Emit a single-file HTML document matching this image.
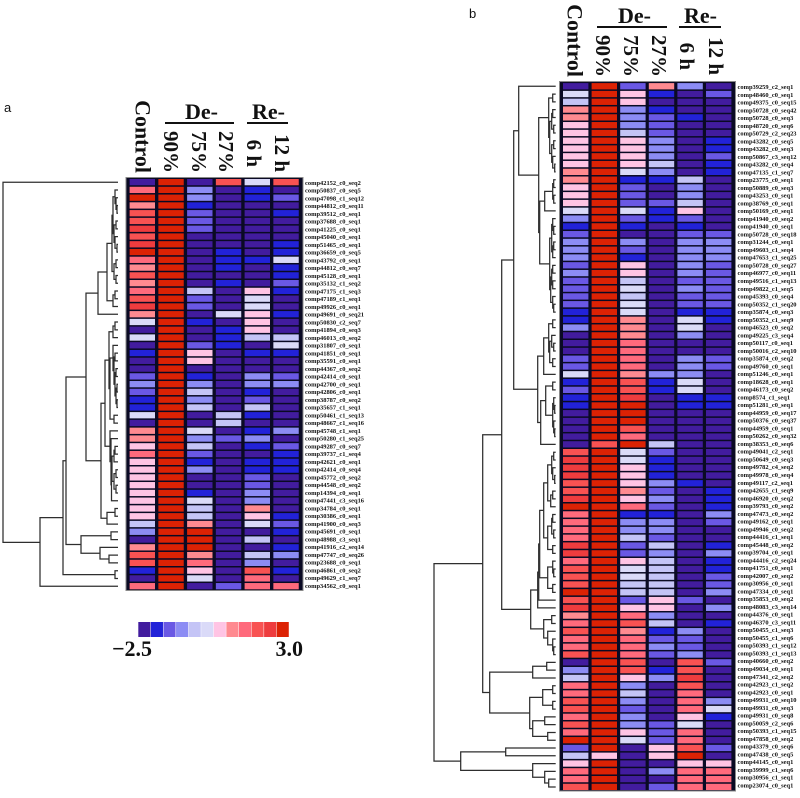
<!DOCTYPE html>
<html lang="en">
<head>
<meta charset="utf-8">
<title>Expression heatmaps</title>
<style>
html,body{margin:0;padding:0;background:#fff;}
#chart{display:block;width:800px;height:798px;filter:blur(0.35px);}
text{font-family:"Liberation Serif",serif;fill:#111;}
.hd{font-weight:bold;font-size:21px;}
.grp{font-weight:bold;font-size:22px;}
.lbl{font-weight:bold;font-size:6.45px;}
.tag{font-family:"Liberation Sans",sans-serif;font-size:13px;}
.leg{font-weight:bold;font-size:22px;}
</style>
</head>
<body>
<svg id="chart" xmlns="http://www.w3.org/2000/svg" width="800" height="798" viewBox="0 0 800 798">
  <text class="tag" x="4" y="112">a</text>
  <text class="tag" x="469" y="18">b</text>

  <g>
    <text class="hd" style="font-size:22px" transform="translate(135.5,173) rotate(90)" text-anchor="end">Control</text>
    <text class="grp" x="185" y="119">De-</text>
    <rect x="165" y="122" width="69" height="2" fill="#111"/>
    <text class="grp" x="252" y="119">Re-</text>
    <rect x="247" y="122" width="41" height="2" fill="#111"/>
    <text class="hd" transform="translate(164,173) rotate(90)" text-anchor="end">90%</text>
    <text class="hd" transform="translate(192,173) rotate(90)" text-anchor="end">75%</text>
    <text class="hd" transform="translate(219,173) rotate(90)" text-anchor="end">27%</text>
    <text class="hd" transform="translate(247,167) rotate(90)" text-anchor="end">6 h</text>
    <text class="hd" transform="translate(275,172) rotate(90)" text-anchor="end">12 h</text>
  </g>

  <g>
    <text class="hd" style="font-size:22px" transform="translate(567.5,77) rotate(90)" text-anchor="end">Control</text>
    <text class="grp" x="618" y="23">De-</text>
    <rect x="597" y="26" width="70" height="2" fill="#111"/>
    <text class="grp" x="684" y="23">Re-</text>
    <rect x="679" y="26" width="42" height="2" fill="#111"/>
    <text class="hd" transform="translate(596,77) rotate(90)" text-anchor="end">90%</text>
    <text class="hd" transform="translate(624,77) rotate(90)" text-anchor="end">75%</text>
    <text class="hd" transform="translate(652,77) rotate(90)" text-anchor="end">27%</text>
    <text class="hd" transform="translate(680,70) rotate(90)" text-anchor="end">6 h</text>
    <text class="hd" transform="translate(709,75) rotate(90)" text-anchor="end">12 h</text>
  </g>

  <rect x="126" y="177.5" width="177" height="413" fill="#0a0a24" stroke="#8a8a8a" stroke-width="1"/>
  <rect x="559.5" y="81.5" width="176" height="709.5" fill="#0a0a24" stroke="#8a8a8a" stroke-width="1"/>
  <g id="layer-a"></g>
  <g id="layer-b"></g>
  <g id="tree-a" fill="none" stroke="#2e2e2e" stroke-width="1.25"></g>
  <g id="tree-b" fill="none" stroke="#2e2e2e" stroke-width="1.25"></g>
  <g id="legend"></g>
</svg>
<script>
const columnNames = ["Control", "90%", "75%", "27%", "6 h", "12 h"];

const rowLabelsA = ["comp42152_c0_seq2","comp50837_c0_seq5","comp47098_c1_seq12","comp44812_c0_seq11","comp39512_c0_seq1","comp37688_c0_seq1","comp41225_c0_seq1","comp45040_c0_seq1","comp51465_c0_seq1","comp36659_c0_seq5","comp43792_c0_seq1","comp44812_c0_seq7","comp45128_c0_seq1","comp35132_c1_seq2","comp47175_c1_seq3","comp47189_c1_seq1","comp49926_c0_seq1","comp49691_c0_seq21","comp50830_c2_seq7","comp41894_c0_seq3","comp46013_c0_seq2","comp31807_c0_seq1","comp41851_c0_seq1","comp35591_c0_seq1","comp44367_c0_seq2","comp42414_c0_seq1","comp42700_c0_seq1","comp42806_c0_seq1","comp38787_c0_seq2","comp35657_c1_seq1","comp50461_c1_seq13","comp48667_c1_seq16","comp45748_c1_seq1","comp50280_c1_seq25","comp49287_c0_seq7","comp39737_c1_seq4","comp42621_c0_seq1","comp42414_c0_seq4","comp45772_c0_seq2","comp44548_c0_seq2","comp14394_c0_seq1","comp47441_c3_seq16","comp34784_c0_seq1","comp30386_c0_seq1","comp41900_c0_seq3","comp45691_c0_seq1","comp48988_c3_seq1","comp41916_c2_seq14","comp47747_c0_seq26","comp23688_c0_seq1","comp46861_c0_seq2","comp49629_c1_seq7","comp34562_c0_seq1"];

const valuesA = [
[-2.5,3,-2.5,2,0,2],
[1.5,3,-1,-2.5,-2,-2.5],
[3,3,-1,-2.5,-2,-1.5],
[1,3,-2,-2.5,-2.5,-2.5],
[2,3,-1.5,-2.5,-2.5,-2],
[2,3,-1.5,-2.5,-2.5,-2.5],
[2.5,3,-1.5,-2.5,-2.5,-2.5],
[2,3,-2.5,-2.5,-2.5,-2.5],
[2.5,3,-2.5,-2.5,-2.5,-2],
[3,3,-2.5,-2,-2.5,-2],
[1.5,3,-2.5,-2,-2,0],
[1,3,-2.5,-2,-2.5,-2],
[2,3,-2.5,-2.5,-2.5,-2],
[1,3,-2.5,-2,-2.5,-1.5],
[1.5,3,-0.5,-2.5,0.5,-2],
[2,3,-1.5,-2.5,0,-2.5],
[2.5,3,-1.5,-2.5,0,-2.5],
[1,3,-2.5,0,0.5,-2],
[0,3,-2,-2.5,0.5,-2.5],
[-2.5,3,-2.5,-2,0.5,-2.5],
[0,3,-2.5,-2,-0.5,-0.5],
[-2.5,3,-1.5,-2,-2.5,0],
[-2,3,0.5,-2.5,-2,-2],
[-2.5,3,0.5,-2.5,-2.5,-2.5],
[-2.5,3,-2.5,-2.5,-2.5,-2.5],
[-1.5,3,-2,-2.5,-1,-1.5],
[-1,3,-1,-2.5,-1,-1],
[-1.5,3,-0.5,-2.5,-2,-2.5],
[-2,3,-1,-2.5,-1.5,-2.5],
[-2,3,-0.5,-2.5,-0.5,-2.5],
[0,3,-2.5,-0.5,-2,-2.5],
[-2.5,3,-2.5,-0.5,-2.5,-2.5],
[1,3,0,-2.5,-2,-1],
[1,3,-1,-1.5,-1,-2.5],
[0.5,3,-0.5,-2.5,-2,-1.5],
[1.5,3,-1.5,-2.5,-2.5,-2],
[0.5,3,-2,-2.5,-2,-2],
[0.5,3,-1,-2.5,-2,-2],
[0.5,3,-2.5,-2.5,-1.5,-2.5],
[0.5,3,-2.5,-2.5,-1.5,-2.5],
[0.5,3,-2,-2.5,-1,-2.5],
[0.5,3,0,-2.5,-1,-2.5],
[0.5,3,-0.5,-2.5,1,-2.5],
[0.5,3,-0.5,-2.5,0.5,-2],
[-0.5,3,1,-2.5,0,-1.5],
[-1,3,3,-2.5,-2.5,-2],
[-2.5,3,3,-2.5,-0.5,-2.5],
[1,3,3,-2.5,-2.5,-2],
[2,3,1,-2.5,-0.5,-1],
[2,3,1.5,-2.5,-1,-2.5],
[-2,3,0.5,-2.5,2,-2],
[-2.5,3,0,-2.5,1.5,-2.5],
[1.5,3,-2.5,-1.5,1.5,1.5]
];

const rowLabelsB = ["comp39259_c2_seq1","comp48460_c0_seq1","comp49375_c0_seq15","comp50728_c0_seq42","comp50728_c0_seq3","comp48720_c0_seq6","comp50729_c2_seq23","comp43282_c0_seq5","comp43282_c0_seq3","comp50867_c3_seq12","comp43282_c0_seq4","comp47135_c1_seq7","comp23775_c0_seq1","comp50889_c0_seq3","comp43253_c0_seq1","comp38769_c0_seq1","comp50169_c0_seq1","comp41940_c0_seq2","comp41940_c0_seq1","comp50728_c0_seq18","comp31244_c0_seq1","comp49603_c1_seq4","comp47653_c1_seq25","comp50728_c0_seq27","comp46977_c0_seq11","comp49516_c1_seq13","comp49822_c1_seq5","comp45393_c0_seq4","comp50352_c1_seq20","comp35874_c0_seq3","comp50352_c1_seq9","comp46523_c0_seq2","comp49225_c3_seq4","comp50117_c0_seq1","comp50016_c2_seq10","comp35874_c0_seq2","comp49760_c0_seq1","comp51246_c0_seq1","comp18628_c0_seq1","comp46173_c0_seq2","comp8574_c1_seq1","comp51281_c0_seq1","comp44959_c0_seq17","comp50376_c0_seq37","comp44959_c0_seq1","comp50262_c0_seq32","comp38353_c0_seq6","comp49041_c2_seq1","comp50649_c0_seq3","comp49782_c4_seq2","comp49978_c0_seq4","comp49117_c2_seq1","comp42655_c1_seq9","comp46920_c0_seq2","comp39793_c0_seq2","comp47473_c0_seq2","comp49162_c0_seq1","comp49946_c0_seq2","comp44416_c1_seq1","comp45448_c0_seq2","comp39704_c0_seq1","comp44416_c2_seq24","comp41751_c0_seq1","comp42007_c0_seq2","comp30956_c0_seq1","comp47334_c0_seq1","comp35853_c0_seq2","comp48083_c3_seq14","comp44376_c0_seq1","comp46370_c3_seq11","comp50455_c1_seq3","comp50455_c1_seq6","comp50393_c1_seq12","comp50393_c1_seq13","comp40660_c0_seq2","comp49034_c0_seq1","comp47341_c2_seq2","comp42923_c1_seq2","comp42923_c0_seq1","comp49931_c0_seq10","comp49931_c0_seq3","comp49931_c0_seq8","comp50059_c2_seq6","comp50393_c1_seq15","comp47858_c0_seq2","comp43379_c0_seq6","comp47438_c0_seq5","comp44145_c0_seq1","comp39999_c1_seq6","comp30956_c1_seq1","comp23074_c0_seq1"];

const valuesB = [
[-2.5,3,-1.5,1,-1,-2.5],
[0,3,0.5,-2,-2.5,-1.5],
[-0.5,3,0.5,-2.5,-2.5,-2.5],
[1,3,-1,-2,-2.5,-2.5],
[1,3,-1,-1.5,-2,-2.5],
[0.5,3,-1,-1.5,-2.5,-2.5],
[0.5,3,-0.5,-1.5,-2.5,-2.5],
[0.5,3,0.5,-1,-2.5,-2],
[0.5,3,0.5,-1,-2.5,-2],
[0.5,3,0.5,-1,-2.5,-1.5],
[0.5,3,0.5,-0.5,-2.5,-2],
[1,3,0,-1,-2.5,-2],
[1,3,-2,-2,-0.5,-2.5],
[0.5,3,-1.5,-2.5,-1,-2.5],
[0.5,3,-1.5,-2.5,-1,-2.5],
[0.5,3,-1.5,-1.5,-0.5,-2.5],
[0,3,0,-2,0.5,-2.5],
[-1,3,-1.5,-2,-1.5,-2.5],
[-2,3,-2,-2.5,-2,-2.5],
[-1.5,3,-2.5,-2.5,-1.5,-1.5],
[-1,3,-1,-2.5,-1,-1],
[-1,3,-1.5,-2.5,-1,-1],
[-1,3,-2,-2.5,-1,-1],
[-1.5,3,0.5,-2.5,-1,-1.5],
[-1,3,0.5,-2.5,-1,-1.5],
[-1.5,3,-0.5,-2.5,-1.5,-1.5],
[-1.5,3,0,-2.5,-1,-1.5],
[-1.5,3,-0.5,-2.5,-1.5,-1.5],
[-1.5,3,0,-2.5,-1.5,-1.5],
[-2,3,0,-2.5,-2,-2],
[-2,3,1,-2.5,0,-2],
[-1,3,1,-2.5,0,-2.5],
[-2.5,3,1,-2.5,-1,-2.5],
[-2.5,3,1.5,-2.5,-2.5,-2.5],
[-2.5,3,1.5,-2.5,-2.5,-2.5],
[-1.5,3,1.5,-2.5,-1,-1.5],
[-1.5,3,1.5,-2.5,-1,-1.5],
[0,3,1,-1,-1,-2.5],
[-2,3,2,-2,0,-2.5],
[-1.5,3,2,-2,0,-2.5],
[-2,3,2.5,-2.5,-2,-2],
[-2,3,3,-2.5,-2,-2],
[-2.5,3,3,-2.5,-2.5,-2.5],
[-2.5,3,3,-2.5,-2.5,-2.5],
[-2.5,3,2,-2.5,-2.5,-2.5],
[-2.5,3,1.5,-2.5,-2.5,-2.5],
[-2.5,2,3,-0.5,-2.5,-2.5],
[2,3,0,-1.5,-2.5,-2.5],
[2.5,3,0,-2,-2.5,-2.5],
[2.5,3,0.5,-2,-2.5,-2.5],
[2.5,3,0.5,-2,-2.5,-2.5],
[2,3,0.5,-1,-2,-2.5],
[2,3,1,-1.5,-2.5,-2],
[2.5,3,0.5,-1,-2.5,-2],
[3,3,1.5,-1.5,-2.5,-2],
[1.5,3,-2,-2,-2.5,-1],
[1.5,3,-1,-1,-2.5,-1.5],
[1.5,3,-1,-1,-2.5,-2.5],
[1.5,3,-0.5,-1.5,-2.5,-2.5],
[2.5,3,-1.5,-0.5,-2.5,-2],
[2.5,3,-1.5,-1,-2.5,-1],
[1.5,3,0.5,-0.5,-2.5,-2],
[2,3,0,-0.5,-2.5,-2],
[2,3,0,-0.5,-2.5,-1.5],
[2,3,-0.5,-0.5,-2.5,-1.5],
[3,3,-0.5,-0.5,-2.5,-1],
[2,3,-1.5,0.5,-1.5,-2.5],
[2.5,3,0.5,0.5,-2.5,-1],
[1,3,1.5,-1,-2.5,-2.5],
[1.5,3,2,-0.5,-2.5,-2],
[2,3,1,-2,-1,-2.5],
[1.5,3,1.5,-1.5,-1.5,-2.5],
[1.5,3,1.5,-1,-1.5,-2.5],
[2,3,1.5,-1.5,-1,-2.5],
[-2.5,3,2,-2.5,2,-1.5],
[-1,3,2,-2,2,-2.5],
[-0.5,3,0.5,-1,2.5,-2.5],
[1.5,3,-1,-2.5,2,-2.5],
[1.5,3,-0.5,-2.5,1.5,-2.5],
[2,3,-1,-2.5,1.5,-1],
[2,3,-1.5,-2.5,1.5,0],
[1.5,3,-1,-2.5,0.5,-2],
[2,3,-1,-1.5,0,-2.5],
[1.5,3,0.5,-1.5,1.5,-2.5],
[3,3,0,-1.5,1.5,-2.5],
[-1.5,3,-2.5,0.5,2,-1.5],
[-0.5,0.5,-2.5,0.5,3,-2.5],
[0.5,3,-2.5,-2.5,0.5,0.5],
[1.5,3,-2.5,-1,1.5,1.5],
[1.5,3,-2.5,-2.5,1.5,1.5],
[2,3,-2.5,-1.5,1.5,1.5]
];

const legendSteps = [-2.5,-2,-1.5,-1,-0.5,0,0.5,1,1.5,2,2.5,3];
const legendTicks = ["\u22122.5", "3.0"];

/* dendrogram merges: [merge distance, upper child, lower child, optional join fraction]; 0 = a leaf row */
const dendroA = [115,0,[78,[55,[52,[32,
  [20,[11,[6,[5,[3,0,[2,0,[1,0,0]]],[4,[2,0,0],[3,0,[1,0,0]]]],[4,[2,0,0],[2,0,0]]],[5,[3,0,0],0]],0],
  [17,[13,
    [9,[5,[3,0,0],0],[8,[5,0,[4,[3,0,0],[3,[2,0,0],[2,[1,0,0],[1,0,0]]]]],[4,0,0]]],
    [8,0,[7,0,[6.5,[6,[4,[3,0,0],0],[4,[2,0,0],[2,0,0]]],0]]]],
    [11,[3,0,0],0]]],
  [37,[7,0,0],[18,0,[9,0,0]]]],
  [3,0,0]],0,0.36]];

const dendroB = [121.7,
 [73,
  [54,
   [42,
    [37,0,[17,
      [7,[3,0,0],[6,[4,[3,0,0],[2,0,0]],[4,[2,0,0],[3,0,[1,0,0]]]]],
      [16,[11,[3,[2,0,0],[2,0,0]],0],
        [6,[4,[3,0,[2,0,0]],[3,[2,0,0],0]],[5,[4,[3,0,0],[3,0,0]],[3,0,[2,0,0]]]]]]],
    [18,
      [12,[7,[3,0,0],[6,[4,0,[2,0,0]],[3,0,0]]],0],
      [15,[10,[3,0,0],[3,[2,0,[1,0,0]],[2,0,[1,0,0]]]],0]]],
   [25,
    [18,[17,[16,[12,
        [8,[4,[2,0,0],[3,0,[1,0,0]]],[5,[3,0,0],0]],
        [8,[4,[3,0,0],[2,0,0]],[3,0,0]]],
        [8,[3,0,[2,0,0]],[3,0,0]]],0],0],
    [12,[4,0,0],[8,0,[3,0,[2,0,0]]]]]],
  [66,[23,[9,0,0],0],[26,[13,[3,0,0],[3,0,0]],[23,[11,0,0],[8,0,0]]]]],
 [95,[50,0,0],[23,0,[11,0,[7,0,0]]]]];

const SVGNS = "http://www.w3.org/2000/svg";
const palette = ["#421c9e","#2222d8","#6a58e4","#8c8cf4","#c4c4f6","#dadaf8","#ffc4e4","#ff8a90","#ff6a7c","#f85252","#ee3c3e","#dc2204"];
function colorOf(v) {
  const i = Math.round((v + 2.5) / 5.5 * (palette.length - 1));
  return palette[Math.max(0, Math.min(palette.length - 1, i))];
}
function make(tag, attrs) {
  const el = document.createElementNS(SVGNS, tag);
  for (const k in attrs) el.setAttribute(k, attrs[k]);
  return el;
}
function drawHeatmap(layerId, labels, values, cfg) {
  const layer = document.getElementById(layerId);
  const xScale = c => cfg.x0 + c * cfg.colPitch;
  const yScale = r => cfg.y0 + r * cfg.rowPitch;
  values.forEach((row, r) => {
    row.forEach((v, c) => {
      const cell = make("rect", {x: xScale(c), y: yScale(r) + 0.7, width: cfg.cellW, height: cfg.rowPitch - 1.5, fill: colorOf(v)});
      
      
      const tip = make("title", {});
      tip.textContent = labels[r] + " " + columnNames[c] + ": " + v;
      cell.appendChild(tip);
      layer.appendChild(cell);
    });
    const t = make("text", {x: cfg.labelX, y: cfg.labelY0 + r * cfg.labelPitch + 2.2, class: "lbl"});
    t.textContent = labels[r];
    
    
    layer.appendChild(t);
  });
}
function drawTree(groupId, tree, cfg) {
  const g = document.getElementById(groupId);
  const xScale = d => cfg.leafX - d * cfg.unit;
  const yScale = r => cfg.y0 + r * cfg.rowPitch;
  let next = 0;
  function walk(node) {
    if (node === 0) {
      return {y: yScale(next++), x: cfg.leafX};
    }
    const a = walk(node[1]);
    const b = walk(node[2]);
    const x = xScale(node[0]);
    const p = make("path", {d: "M" + a.x + " " + a.y + "H" + x + "V" + b.y + "H" + b.x});
    
    
    g.appendChild(p);
    const frac = node.length > 3 ? node[3] : 0.5;
    return {y: a.y + (b.y - a.y) * frac, x: x};
  }
  walk(tree);
}

drawHeatmap("layer-a", rowLabelsA, valuesA, {x0: 129.6, colPitch: 28.75, cellW: 25.4, y0: 178.3, rowPitch: 7.77, labelX: 305, labelY0: 182.6, labelPitch: 7.75});
drawHeatmap("layer-b", rowLabelsB, valuesB, {x0: 563, colPitch: 28.6, cellW: 25.4, y0: 82.4, rowPitch: 7.785, labelX: 737.5, labelY0: 86.8, labelPitch: 7.76});
drawTree("tree-a", dendroA, {leafX: 118, unit: 1, y0: 182.2, rowPitch: 7.77});
drawTree("tree-b", dendroB, {leafX: 555.7, unit: 1, y0: 86.3, rowPitch: 7.785});

const legend = document.getElementById("legend");
legendSteps.forEach((v, i) => {
  const swatch = make("rect", {x: 138.3 + i * 12.58, y: 622, width: 12.1, height: 15, fill: colorOf(v)});
  
  
  legend.appendChild(swatch);
});
legendTicks.forEach((label, i) => {
  const t = make("text", {x: i === 0 ? 152 : 303, y: 656, "text-anchor": "end", class: "leg"});
  t.textContent = label;
  
  
  legend.appendChild(t);
});
</script>
</body>
</html>
